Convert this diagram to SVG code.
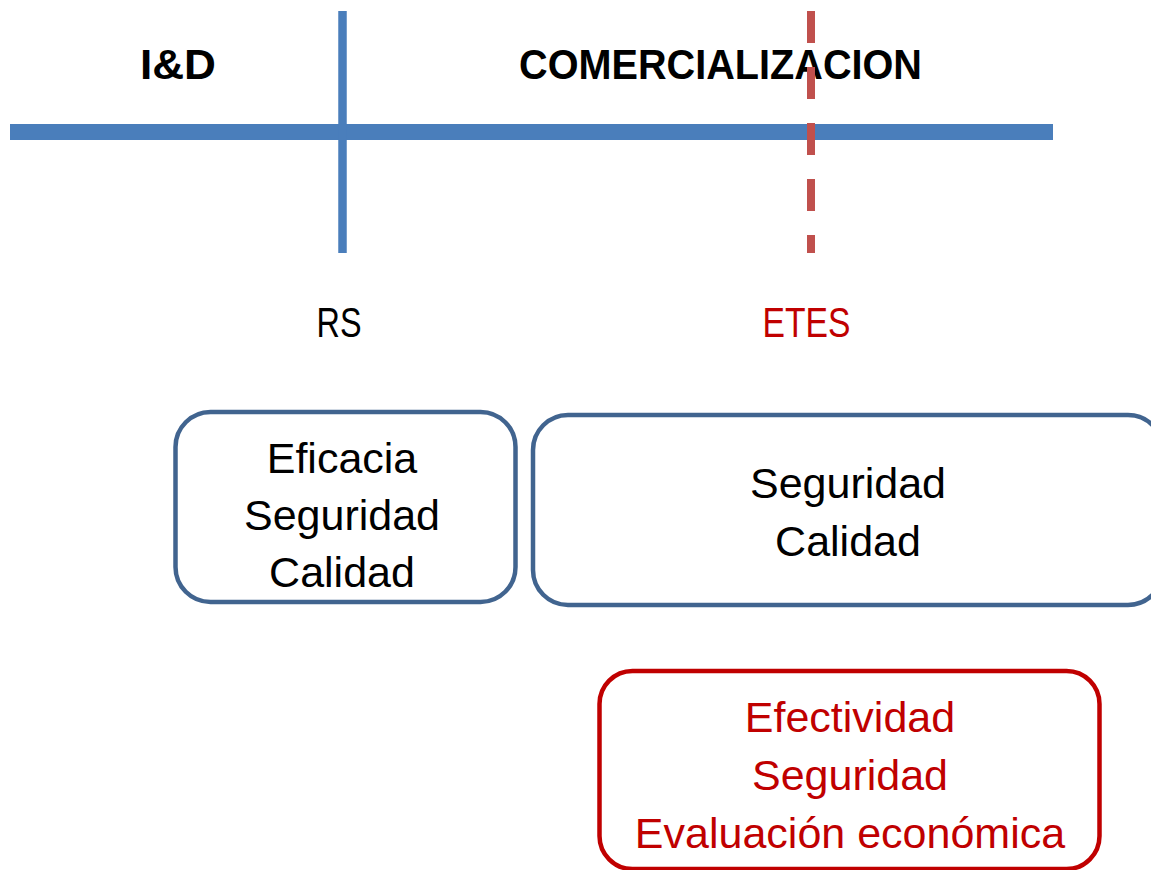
<svg xmlns="http://www.w3.org/2000/svg" width="1151" height="870" viewBox="0 0 1151 870">
<style>
.t{font-family:"Liberation Sans",Arial,sans-serif;font-size:43px;text-anchor:middle;fill:#000}
.b{font-weight:bold;font-size:42px}
.r{fill:#C00000}
.box{fill:#fff;stroke:#41648F;stroke-width:4.5}
.rbox{fill:#fff;stroke:#C00000;stroke-width:4.5}
</style>
<rect width="1151" height="870" fill="#fff"/>
<g id="connectors">
<line x1="10" y1="132" x2="1053" y2="132" stroke="#4A7EBB" stroke-width="16"/>
<line x1="342.5" y1="11" x2="342.5" y2="253" stroke="#4A7EBB" stroke-width="8.5"/>
</g>
<g id="label-id"><text class="t b" x="178" y="79" textLength="76" lengthAdjust="spacingAndGlyphs">I&amp;D</text></g>
<g id="label-comercializacion"><text class="t b" x="720.5" y="79" textLength="403" lengthAdjust="spacingAndGlyphs">COMERCIALIZACION</text></g>
<g id="etes-line"><line x1="811" y1="11" x2="811" y2="253" stroke="#C0504D" stroke-width="8" stroke-dasharray="32 24"/></g>
<g id="label-rs"><text class="t" x="339" y="337" textLength="45" lengthAdjust="spacingAndGlyphs">RS</text></g>
<g id="label-etes"><text class="t r" x="806.5" y="337" textLength="88" lengthAdjust="spacingAndGlyphs">ETES</text></g>
<g id="box-rs">
<rect class="box" x="175.5" y="412" width="340" height="190" rx="35"/>
<text class="t" x="342" y="473">Eficacia</text>
<text class="t" x="342" y="530">Seguridad</text>
<text class="t" x="342" y="587">Calidad</text>
</g>
<g id="box-etes">
<rect class="box" x="533" y="415" width="630" height="190" rx="35"/>
<text class="t" x="848" y="498">Seguridad</text>
<text class="t" x="848" y="556">Calidad</text>
</g>
<g id="box-eval">
<rect class="rbox" x="599.5" y="671" width="500" height="198" rx="33"/>
<text class="t r" x="850" y="732">Efectividad</text>
<text class="t r" x="850" y="790">Seguridad</text>
<text class="t r" x="850" y="848">Evaluación económica</text>
</g>
</svg>
